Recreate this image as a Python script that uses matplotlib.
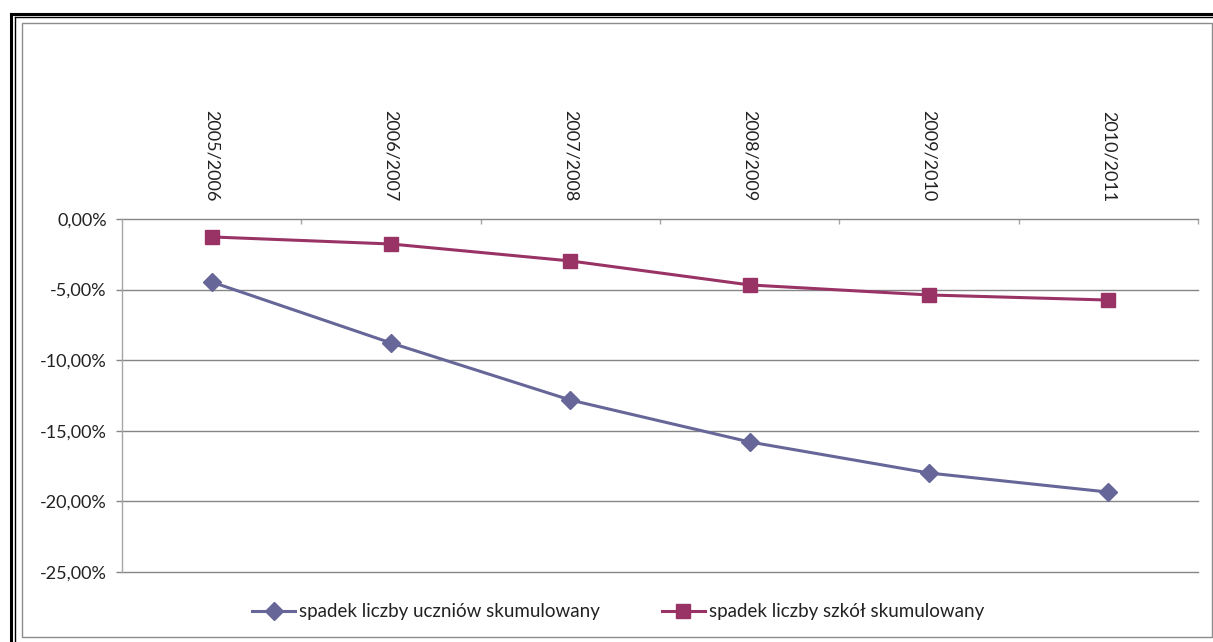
import matplotlib
matplotlib.use("Agg")
import matplotlib.pyplot as plt
from matplotlib.lines import Line2D
from matplotlib.patches import Rectangle
from matplotlib.ticker import FuncFormatter, FixedLocator

plt.rcParams['font.family'] = ['Lato', 'DejaVu Sans']

categories = ["2005/2006", "2006/2007", "2007/2008", "2008/2009", "2009/2010", "2010/2011"]
students = [-4.46, -8.78, -12.82, -15.79, -17.99, -19.34]
schools = [-1.27, -1.77, -2.97, -4.67, -5.38, -5.74]
series_names = ["spadek liczby uczniów skumulowany", "spadek liczby szkół skumulowany"]
yticks = [0, -5, -10, -15, -20, -25]

W, H = 1213, 642
fig = plt.figure(figsize=(W / 100, H / 100), dpi=100)

def fx(x):
    return x / W

def fy(y):
    return 1 - y / H

# outer double frame (top + left)
fig.add_artist(Line2D([fx(11), fx(W)], [fy(13.5), fy(13.5)], color='black', lw=2.2))
fig.add_artist(Line2D([fx(11), fx(11)], [fy(13.5), fy(H)], color='black', lw=2.2))
fig.add_artist(Line2D([fx(15), fx(W)], [fy(16.8), fy(16.8)], color='black', lw=1.0))
fig.add_artist(Line2D([fx(15), fx(15)], [fy(16.8), fy(H)], color='black', lw=1.0))
# chart area border
fig.add_artist(Rectangle((fx(22), fy(637)), fx(1212) - fx(22), fy(23) - fy(637),
                         fill=False, edgecolor='#8c8c8c', lw=1.0))

left, right, top, bottom = 122, 1198, 219, 572
ax = fig.add_axes([fx(left), fy(bottom), fx(right) - fx(left), fy(top) - fy(bottom)])

x = list(range(len(categories)))
ax.plot(x, students, color='#666699', lw=2.2, marker='D', markersize=9.5,
        markerfacecolor='#666699', markeredgecolor='#666699', label=series_names[0], zorder=3)
ax.plot(x, schools, color='#993366', lw=2.2, marker='s', markersize=10.5,
        markerfacecolor='#993366', markeredgecolor='#993366', label=series_names[1], zorder=3)

ax.set_xlim(-0.5, len(categories) - 0.5)
ax.set_ylim(-25, 0)

for s in ['top', 'right', 'bottom']:
    ax.spines[s].set_visible(False)
ax.spines['left'].set_color('#a6a6a6')
ax.spines['left'].set_linewidth(1.0)

ax.set_yticks(yticks)
ax.yaxis.set_major_formatter(FuncFormatter(lambda v, p: ("%.2f%%" % v).replace('.', ',') if v != 0 else "0,00%"))
ax.tick_params(axis='y', length=4.5, width=1, color='#868686', labelsize=13, pad=6.5, labelcolor='#222222')
ax.yaxis.grid(True, color='#868686', lw=1.0)
ax.set_axisbelow(True)
for gl in ax.get_ygridlines():
    gl.set_clip_on(False)

ax.xaxis.tick_top()
ax.set_xticks(x)
ax.set_xticklabels(categories, rotation=270, fontsize=13, color='#222222')
ax.xaxis.set_minor_locator(FixedLocator([i + 0.5 for i in range(len(categories))]))
ax.tick_params(axis='x', which='major', length=0, pad=12.5)
ax.tick_params(axis='x', which='minor', length=3.8, width=1, color='#a6a6a6', direction='in')
for lbl in ax.get_xticklabels():
    lbl.set_verticalalignment('bottom')

leg = fig.legend(loc='center', bbox_to_anchor=(fx(618), fy(612)), ncol=2, frameon=False,
                 fontsize=13.5, handlelength=2.3, columnspacing=3.3, handletextpad=0.2)
for t in leg.get_texts():
    t.set_color('#222222')

fig.savefig("out.png", dpi=100)
